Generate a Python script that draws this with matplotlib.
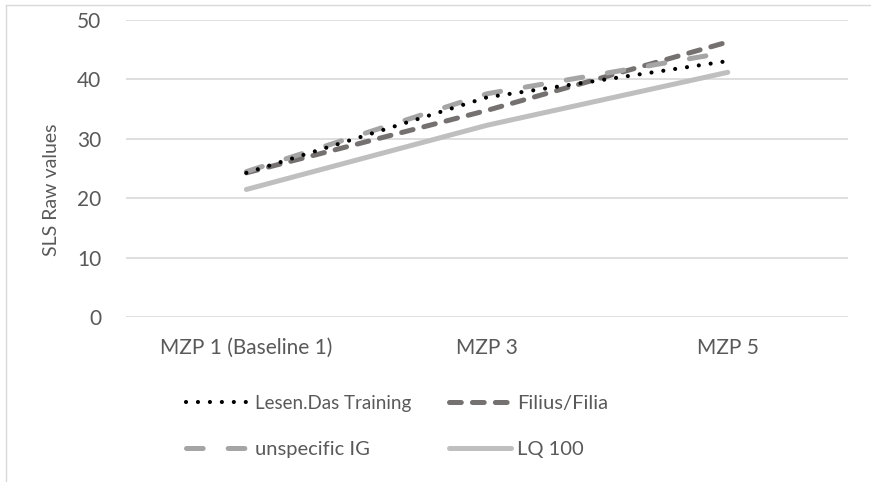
import matplotlib
matplotlib.use("Agg")
import matplotlib.pyplot as plt
from matplotlib.lines import Line2D

# measurement points and mean SLS raw scores per group
timepoints = ["MZP 1 (Baseline 1)", "MZP 3", "MZP 5"]
lesen_training = [24.3, 37.0, 43.1]
filius_filia = [24.3, 34.8, 46.3]
unspecific_ig = [24.5, 37.6, 44.6]
lq_100 = [21.5, 32.3, 41.2]
yticks = [0, 10, 20, 30, 40, 50]

plt.rcParams["font.family"] = ["Lato", "DejaVu Sans"]
plt.rcParams["lines.scale_dashes"] = False
text_col = "#595959"

fig = plt.figure(figsize=(8.71, 4.82), dpi=100)
ax = fig.add_axes([0.1447, 0.3417, 0.829, 0.6168])

x = range(len(timepoints))
ax.plot(x, lesen_training, color="#000000", lw=3.0, dashes=(0.01, 8.6),
        dash_capstyle="round", label="Lesen.Das Training", zorder=5)
ax.plot(x, unspecific_ig, color="#A5A5A5", lw=3.6, dashes=(12, 18),
        dash_capstyle="round", label="unspecific IG", zorder=4)
ax.plot(x, filius_filia, color="#767171", lw=3.6, dashes=(8.5, 8),
        dash_capstyle="round", label="Filius/Filia", zorder=3)
ax.plot(x, lq_100, color="#BFBFBF", lw=3.6, solid_capstyle="round",
        label="LQ 100", zorder=2)

ax.set_xlim(-0.5, 2.5)
ax.set_ylim(0, 50)
ax.set_yticks(yticks)
ax.set_xticks(list(x))
ax.set_xticklabels(timepoints)
ax.grid(axis="y", color="#D9D9D9", lw=1.2)
ax.set_axisbelow(True)
for s in ax.spines.values():
    s.set_visible(False)
ax.tick_params(length=0, labelsize=15, colors=text_col)
ax.tick_params(axis="y", pad=18)
ax.tick_params(axis="x", pad=15)
ax.set_ylabel("SLS Raw values", fontsize=14, color=text_col)
ax.yaxis.set_label_coords(-0.092, 0.43)

leg = ax.legend(loc="upper left", bbox_to_anchor=(0.058, -0.2), ncol=2,
                frameon=False, fontsize=14.5, handlelength=3.1,
                columnspacing=1.9, labelspacing=1.45, handletextpad=0.3)
for t in leg.get_texts():
    t.set_color(text_col)
leg.get_texts()[0].set_fontsize(13.5)

# outer chart frame
fig.add_artist(Line2D([6 / 871, 1], [1 - 5 / 482, 1 - 5 / 482],
                      transform=fig.transFigure, color="#D9D9D9", lw=1))
fig.add_artist(Line2D([6 / 871, 6 / 871], [0, 1 - 5 / 482],
                      transform=fig.transFigure, color="#D9D9D9", lw=1))

fig.savefig("out.png", dpi=100)
